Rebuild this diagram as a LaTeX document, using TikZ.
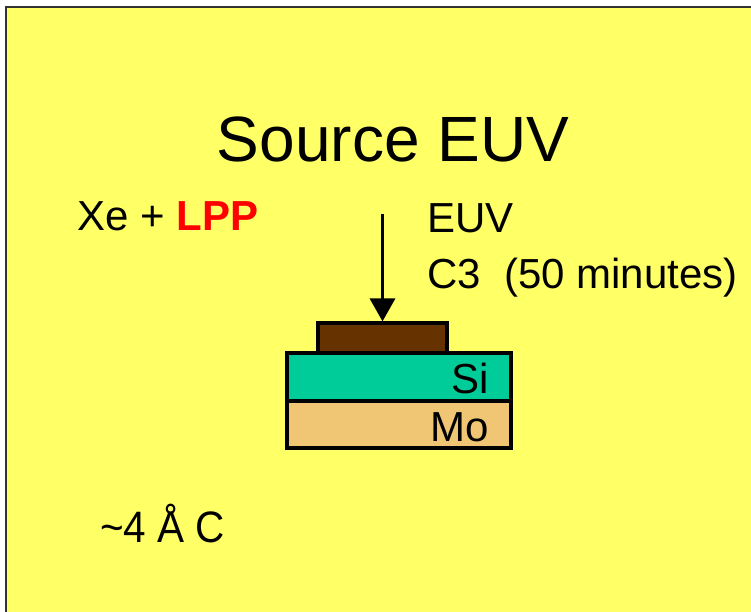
\documentclass[tikz,border=0pt]{standalone}
\usepackage{fontspec}
\setmainfont{Liberation Sans}
\usetikzlibrary{arrows.meta}
\definecolor{slide}{HTML}{FFFF66}
\definecolor{resist}{HTML}{663300}
\definecolor{silicon}{HTML}{00CC99}
\definecolor{molyb}{HTML}{F0C573}
\begin{document}
\begin{tikzpicture}[x=1pt,y=-1pt,
  txt/.style={anchor=base west,inner sep=0,font=\fontsize{42}{50}\selectfont},
  layer/.style={draw,line width=3.2pt,inner sep=0,minimum width=224pt}]
\useasboundingbox (0,0) rectangle (751,612);
\fill[slide] (6,7) rectangle (760,620);
\draw[line width=2.5pt,black!80] (6,620) -- (6,7) -- (760,7);
% title and labels
\node[txt,anchor=base,font=\fontsize{64}{70}\selectfont] (title) at (393,162) {Source EUV};
\node[txt] (src) at (77,230) {Xe + \textcolor{red}{\bfseries LPP}};
\node[txt] (euv) at (427,233) {EUV};
\node[txt] (dose) at (427,288) {C3\ \ (50 minutes)};
\node[txt,font=\fontsize{44}{50}\selectfont,xscale=.92] (thick) at (100,542) {\textasciitilde 4 Å C};
% stack
\node[layer,fill=molyb,minimum height=47pt] (mo) at (399,424.5) {};
\node[layer,fill=silicon,minimum height=48pt] (si) at (399,377) {};
\node[layer,fill=resist,minimum width=129pt,minimum height=30pt] (res) at (382.5,338) {};
\node[txt,anchor=base east] (silbl) at (489,393) {Si};
\node[txt,anchor=base east] (molbl) at (489,441) {Mo};
\coordinate (beam) at (382.5,214);
\draw[line width=3.5pt,-{Triangle[width=25pt,length=23pt]}] (beam) -- (res.north);
\end{tikzpicture}
\end{document}
